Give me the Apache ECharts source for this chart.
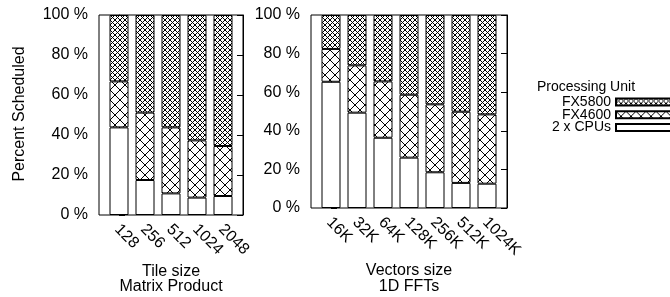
<!DOCTYPE html>
<html>
<head>
<meta charset="utf-8">
<script src="https://cdn.jsdelivr.net/npm/echarts@6/dist/echarts.min.js"></script>
<style>
  html, body { margin: 0; padding: 0; background: #fff; }
  #main { width: 670px; height: 297px; }
</style>
</head>
<body>
<div id="main"></div>
<script>
// Matrix Product (left panel)
var tileSizes = ['128', '256', '512', '1024', '2048'];
var mmCpus    = [43.8, 17.5, 10.8, 8.7, 9.5];
var mmFx4600  = [23.0, 33.7, 33.0, 28.6, 25.0];
var mmFx5800  = [33.2, 48.8, 56.2, 62.7, 65.5];

// 1D FFTs (right panel)
var vecSizes  = ['16K', '32K', '64K', '128K', '256K', '512K', '1024K'];
var fftCpus   = [65.4, 49.4, 36.4, 26.1, 18.5, 13.0, 12.6];
var fftFx4600 = [17.0, 24.5, 29.2, 32.6, 35.2, 36.9, 35.9];
var fftFx5800 = [17.6, 26.1, 34.4, 41.3, 46.3, 50.1, 51.5];

var unitNames = ['FX5800', 'FX4600', '2 x CPUs'];

var FONT = "'Liberation Sans', Arial, sans-serif";
var FS = 16;

// crosshatch pattern (gnuplot style)
function hatch(size) {
    var c = document.createElement('canvas');
    c.width = size;
    c.height = size;
    var ctx = c.getContext('2d');
    ctx.fillStyle = '#fff';
    ctx.fillRect(0, 0, size, size);
    ctx.strokeStyle = '#000';
    ctx.lineWidth = 1;
    ctx.beginPath();
    ctx.moveTo(0, 0); ctx.lineTo(size, size);
    ctx.moveTo(size, 0); ctx.lineTo(0, size);
    ctx.stroke();
    return { image: c, repeat: 'repeat' };
}
var denseHatch = hatch(5);
var wideHatch = hatch(10);

// bars are 26px apart, frame sits 20px from the outer bar centres
var PAD = 20 / 26;
var SHIFT = 0.07;

// frame x axis: only carries the rotated labels
function frameX(gridIndex, cats) {
    var pos = cats.map(function(c, i) { return i - SHIFT; });
    return {
        type: 'value',
        gridIndex: gridIndex,
        min: -PAD,
        max: cats.length - 1 + PAD,
        axisLine: { show: false },
        axisTick: { show: false },
        splitLine: { show: false },
        axisLabel: {
            customValues: pos,
            rotate: -45,
            margin: 12,
            hideOverlap: false,
            color: '#000',
            fontSize: FS,
            fontFamily: FONT,
            formatter: function(v) { return cats[Math.round(v + SHIFT)]; }
        }
    };
}

function frameY(gridIndex, side, labels) {
    return {
        type: 'value',
        gridIndex: gridIndex,
        position: side,
        min: 0,
        max: 100,
        interval: 20,
        axisLine: { show: true, lineStyle: { color: '#000' } },
        axisTick: { show: true, inside: true, length: 6, lineStyle: { color: '#000' } },
        splitLine: { show: false },
        axisLabel: {
            show: labels,
            margin: 11,
            color: '#000',
            fontSize: FS,
            fontFamily: FONT,
            formatter: '{value} %'
        }
    };
}

function barX(gridIndex, cats) {
    return { type: 'category', gridIndex: gridIndex, data: cats, show: false };
}

function barY(gridIndex) {
    return { type: 'value', gridIndex: gridIndex, min: 0, max: 100, show: false, splitLine: { show: false } };
}

function barSeries(name, vals, xi, yi, fill, stack) {
    return {
        name: name,
        type: 'bar',
        stack: stack,
        xAxisIndex: xi,
        yAxisIndex: yi,
        barWidth: 19,
        itemStyle: { color: fill, borderColor: '#000', borderWidth: 1 },
        emphasis: { disabled: true },
        data: vals
    };
}

var chart = echarts.init(document.getElementById('main'), null, { renderer: 'canvas' });

chart.setOption({
    backgroundColor: '#fff',
    animation: false,
    textStyle: { fontFamily: FONT, color: '#000' },
    grid: [
        { left: 99, right: 427, top: 15, bottom: 82, show: true, borderColor: '#000', borderWidth: 1 },
        { left: 106, right: 434, top: 15, bottom: 82 },
        { left: 311, right: 163, top: 15, bottom: 89, show: true, borderColor: '#000', borderWidth: 1 },
        { left: 318, right: 170, top: 15, bottom: 89 }
    ],
    xAxis: [
        frameX(0, tileSizes), barX(1, tileSizes),
        frameX(2, vecSizes), barX(3, vecSizes)
    ],
    yAxis: [
        frameY(0, 'left', true), frameY(0, 'right', false), barY(1),
        frameY(2, 'left', true), frameY(2, 'right', false), barY(3)
    ],
    legend: {
        data: unitNames,
        orient: 'vertical',
        align: 'right',
        right: -7,
        top: 95,
        padding: 0,
        itemGap: -1.2,
        itemWidth: 60,
        itemHeight: 7,
        icon: 'rect',
        selectedMode: false,
        textStyle: { fontSize: 14, lineHeight: 12, color: '#000', fontFamily: FONT }
    },
    graphic: [
        { type: 'text', x: 20, y: 114, rotation: Math.PI / 2,
          style: { text: 'Percent Scheduled', align: 'center', verticalAlign: 'middle', fontSize: FS, fontFamily: FONT, fill: '#000' } },
        { type: 'text', x: 171, y: 279,
          style: { text: 'Tile size\nMatrix Product', align: 'center', verticalAlign: 'middle', lineHeight: 15, fontSize: FS, fontFamily: FONT, fill: '#000' } },
        { type: 'text', x: 409, y: 279,
          style: { text: 'Vectors size\n1D FFTs', align: 'center', verticalAlign: 'middle', lineHeight: 16, fontSize: FS, fontFamily: FONT, fill: '#000' } },
        { type: 'text', x: 586, y: 87,
          style: { text: 'Processing Unit', align: 'center', verticalAlign: 'middle', fontSize: 14, fontFamily: FONT, fill: '#000' } }
    ],
    series: [
        barSeries('2 x CPUs', mmCpus, 1, 2, '#fff', 'mm'),
        barSeries('FX4600', mmFx4600, 1, 2, wideHatch, 'mm'),
        barSeries('FX5800', mmFx5800, 1, 2, denseHatch, 'mm'),
        barSeries('2 x CPUs', fftCpus, 3, 5, '#fff', 'fft'),
        barSeries('FX4600', fftFx4600, 3, 5, wideHatch, 'fft'),
        barSeries('FX5800', fftFx5800, 3, 5, denseHatch, 'fft')
    ]
});
</script>
</body>
</html>
